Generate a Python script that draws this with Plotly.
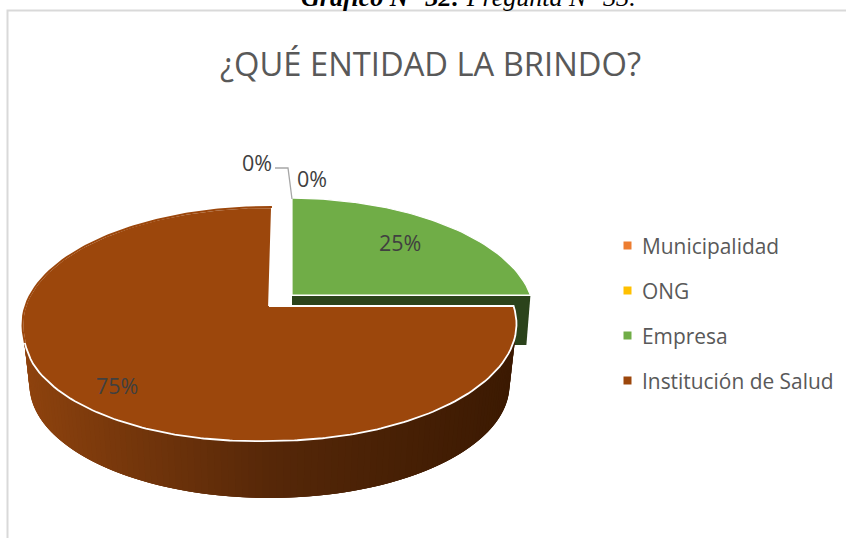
import math
import plotly.graph_objects as go

categories = ["Municipalidad", "ONG", "Empresa", "Institución de Salud"]
values = [0, 0, 25, 75]
colors = ["#ED7D31", "#FFC000", "#70AD47", "#9C470C"]
title_text = "¿QUÉ ENTIDAD LA BRINDO?"
caption_text = "<b><i>Gráfico N° 32:</i></b><i> Pregunta N° 33.</i>"

W, H = 846, 538
TEXT = "#595959"
LABEL = "#404040"

# projected geometry of the top faces (pixel-scaled axes)
GEOM = {
    "Empresa": dict(apex=(292, 295), c=(288, 315), rx=246, ry=117),
    "Institución de Salud": dict(apex=(269, 306), c=(269.5, 324), rx=247, ry=117),
}
BASE = dict(c=(269.5, 385), rx=240, ry=113)
LEGEND_X, LEGEND_Y0, LEGEND_DY = 627.5, 245.5, 45


def rim_point(g, deg):
    """Where a ray from the slice apex at a clock angle meets the tilted ellipse."""
    t = math.radians(deg)
    dx, dy = math.sin(t), -math.cos(t)
    ax, ay = g["apex"][0] - g["c"][0], g["apex"][1] - g["c"][1]
    A = (dx / g["rx"]) ** 2 + (dy / g["ry"]) ** 2
    B = 2 * (ax * dx / g["rx"] ** 2 + ay * dy / g["ry"] ** 2)
    C = (ax / g["rx"]) ** 2 + (ay / g["ry"]) ** 2 - 1
    s = (-B + math.sqrt(B * B - 4 * A * C)) / (2 * A)
    return g["apex"][0] + s * dx, g["apex"][1] + s * dy


def sag(g, x, y):
    """Perspective sag of the rim on the near-left side."""
    u = (g["c"][0] - x) / g["rx"]
    s = (y - g["c"][1]) / g["ry"]
    if u <= 0 or s <= 0:
        return y
    return y + 6.5 * u * min(1.0, s / 0.3)


def mix(a, b, f):
    return "rgb(%d,%d,%d)" % tuple(round(a[i] + (b[i] - a[i]) * f) for i in range(3))


def poly(xs, ys, fill, line=None, lw=0.0):
    return go.Scatter(
        x=xs, y=ys, mode="lines", fill="toself", fillcolor=fill,
        line=dict(color=line or fill, width=lw), hoverinfo="skip", showlegend=False,
    )


fig = go.Figure()

# slice angles from the values
total = sum(values)
angles = {}
acc = 0.0
for name, v in zip(categories, values):
    angles[name] = (acc, acc + v / total * 360)
    acc += v / total * 360

# cut wall behind the Empresa slice
g = GEOM["Empresa"]
rx_pt = rim_point(g, angles["Empresa"][1])
fig.add_trace(poly(
    [g["apex"][0], rx_pt[0], rx_pt[0] - 4, g["apex"][0]],
    [g["apex"][1] + 1, rx_pt[1] + 1, rx_pt[1] + 50, rx_pt[1] + 50],
    "#2B431B",
))

# Empresa top face
a0, a1 = angles["Empresa"]
pts = [rim_point(g, a0 + (a1 - a0) * i / 80) for i in range(81)]
fig.add_trace(poly(
    [g["apex"][0]] + [p[0] for p in pts] + [g["apex"][0]],
    [g["apex"][1]] + [p[1] for p in pts] + [g["apex"][1]],
    colors[2], "#FFFFFF", 1.2,
))

# Institución de Salud outer wall: gradient strips that overlap so no seams show
g = GEOM["Institución de Salud"]
left_col, mid_col, right_col = (0x8F, 0x43, 0x0E), (0x55, 0x27, 0x08), (0x3C, 0x1A, 0x02)
N = 110
for i in range(N):
    p0 = math.pi * (N - i - 1) / N
    p1 = math.pi * min(N, N - i + 2) / N
    tx0, ty0 = g["c"][0] + g["rx"] * math.cos(p0), g["c"][1] + g["ry"] * math.sin(p0)
    tx1, ty1 = g["c"][0] + g["rx"] * math.cos(p1), g["c"][1] + g["ry"] * math.sin(p1)
    bx0, by0 = BASE["c"][0] + BASE["rx"] * math.cos(p0), BASE["c"][1] + BASE["ry"] * math.sin(p0)
    bx1, by1 = BASE["c"][0] + BASE["rx"] * math.cos(p1), BASE["c"][1] + BASE["ry"] * math.sin(p1)
    xs = [tx0, tx1, bx1, bx0]
    ys = [ty0, ty1, by1, by0]
    f = (bx0 - 29) / (509 - 29)
    col = mix(left_col, mid_col, f / 0.55) if f < 0.55 else mix(mid_col, right_col, (f - 0.55) / 0.45)
    fig.add_trace(poly(xs, ys, col, col, 0))

# Institución de Salud top face
a0, a1 = angles["Institución de Salud"]
a1 += 1.7  # perspective lean of the closing edge
pts = [rim_point(g, a0 + (a1 - a0) * i / 240) for i in range(241)]
pts = [(x, sag(g, x, y)) for x, y in pts]
fig.add_trace(poly(
    [g["apex"][0]] + [p[0] for p in pts] + [g["apex"][0]],
    [g["apex"][1]] + [p[1] for p in pts] + [g["apex"][1]],
    colors[3], "#FFFFFF", 1.8,
))
# the far rim has no visible white edge: repaint it in the slice colour
far = [p for p in pts if p[1] < g["c"][1] + 21 and p[0] < g["c"][0] + 5]
fig.add_trace(go.Scatter(
    x=[p[0] for p in far], y=[p[1] for p in far], mode="lines",
    line=dict(color=colors[3], width=2), hoverinfo="skip", showlegend=False,
))

# leader line of the zero label
fig.add_trace(go.Scatter(
    x=[275, 288, 292], y=[168, 168, 199], mode="lines",
    line=dict(color="#A6A6A6", width=1.3), hoverinfo="skip", showlegend=False,
))

# legend keys
fig.add_trace(go.Scatter(
    x=[LEGEND_X] * len(categories),
    y=[LEGEND_Y0 + i * LEGEND_DY for i in range(len(categories))],
    mode="markers",
    marker=dict(symbol="square", size=8, color=colors, line=dict(width=0)),
    hoverinfo="skip", showlegend=False,
))

ann = []
for i, c in enumerate(categories):
    ann.append(dict(x=639.5, y=LEGEND_Y0 + i * LEGEND_DY, text=c, xanchor="left", yanchor="middle",
                    showarrow=False, font=dict(family="Open Sans", size=20.9, color=TEXT)))
label_pos = [(257, 162), (312, 178), (400, 242), (117, 385)]
for (x, y), v in zip(label_pos, values):
    ann.append(dict(x=x, y=y, text=f"{v}%", xanchor="center", yanchor="middle", showarrow=False,
                    font=dict(family="Open Sans", size=21.5, color=LABEL)))
ann.append(dict(x=430, y=63, text=title_text, xanchor="center", yanchor="middle", showarrow=False,
                font=dict(family="Open Sans", size=32.7, color=TEXT)))
ann.append(dict(x=468, y=0, yshift=3, text=caption_text, xanchor="center", yanchor="middle", showarrow=False,
                font=dict(family="Liberation Serif", size=26, color="#000000")))

fig.update_layout(
    width=W, height=H, margin=dict(l=0, r=0, t=0, b=0),
    paper_bgcolor="#FFFFFF", plot_bgcolor="#FFFFFF", showlegend=False,
    xaxis=dict(range=[0, W], visible=False, fixedrange=True),
    yaxis=dict(range=[H, 0], visible=False, fixedrange=True),
    annotations=ann,
    shapes=[dict(type="rect", xref="x", yref="y", x0=7.5, y0=10.5, x1=W + 20, y1=H + 20,
                 line=dict(color="#D9D9D9", width=2), fillcolor="rgba(0,0,0,0)", layer="below")],
)

fig.write_html("out.html", config={"displayModeBar": False},
               post_script="document.body.style.margin='0';document.body.style.overflow='hidden';")
